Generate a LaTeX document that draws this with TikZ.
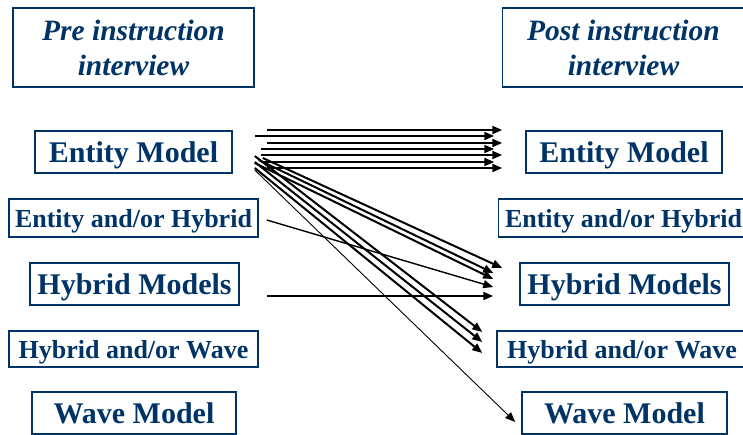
\documentclass[tikz,border=0pt]{standalone}
\usepackage{fontspec}
\setmainfont{Liberation Serif}
\usetikzlibrary{arrows.meta,calc}
\definecolor{navy}{RGB}{0,51,102}
\begin{document}
\begin{tikzpicture}[x=1pt,y=-1pt,
  box/.style={draw=navy,line width=1.5pt,text=navy,inner sep=0pt,align=center,text depth=0pt},
  bigbox/.style={box,font=\bfseries\fontsize{30}{35}\selectfont},
  smallbox/.style={box,font=\bfseries\fontsize{26}{30}\selectfont},
  headbox/.style={box,font=\bfseries\itshape\fontsize{29.5}{35}\selectfont},
  arr/.style={-{Triangle[length=10pt,width=8pt]},line width=2pt},
  midarr/.style={-{Triangle[length=10pt,width=8pt]},line width=1.4pt},
  thinarr/.style={-{Triangle[length=10pt,width=8pt]},line width=0.9pt}]
\useasboundingbox (0,0) rectangle (743,435);
% left column
\node[headbox,minimum width=241pt,minimum height=79pt] (pre) at (133.5,47.5) {Pre instruction\\interview};
\node[bigbox,minimum width=197pt,minimum height=42pt] (lem) at (133.5,152) {Entity Model};
\node[smallbox,minimum width=249pt,minimum height=38pt] (leh) at (133.5,218) {Entity and/or Hybrid};
\node[bigbox,minimum width=209pt,minimum height=42pt] (lhm) at (134.5,284) {Hybrid Models};
\node[smallbox,minimum width=249pt,minimum height=36pt] (lhw) at (133.5,349) {Hybrid and/or Wave};
\node[bigbox,minimum width=204pt,minimum height=42pt] (lwm) at (134,413) {Wave Model};
% right column
\node[headbox,minimum width=242pt,minimum height=79pt] (post) at (623.5,47.5) {Post instruction\\interview};
\node[bigbox,minimum width=196pt,minimum height=42pt] (rem) at (624,152) {Entity Model};
\node[smallbox,minimum width=250pt,minimum height=38pt] (reh) at (623.5,218) {Entity and/or Hybrid};
\node[bigbox,minimum width=209pt,minimum height=42pt] (rhm) at (624.5,284) {Hybrid Models};
\node[smallbox,minimum width=250pt,minimum height=36pt] (rhw) at (622,349) {Hybrid and/or Wave};
\node[bigbox,minimum width=205pt,minimum height=42pt] (rwm) at (624.5,413) {Wave Model};
% horizontal arrows Entity -> Entity
\draw[arr] ($(lem.east)+(34,-22)$) -- ($(rem.west)+(-23,-22)$);
\draw[arr] ($(lem.east)+(22,-16)$) -- ($(rem.west)+(-31,-16)$);
\draw[arr] ($(lem.east)+(34,-9)$) -- ($(rem.west)+(-23,-9)$);
\draw[arr] ($(lem.east)+(28,-3)$) -- ($(rem.west)+(-31,-3)$);
\draw[arr] ($(lem.east)+(28,3)$) -- ($(rem.west)+(-23,3)$);
\draw[arr] ($(lem.east)+(28,10)$) -- ($(rem.west)+(-31,10)$);
\draw[arr] ($(lem.east)+(34,16)$) -- ($(rem.west)+(-23,16)$);
% Entity -> Hybrid Models
\draw[arr] ($(lem.east)+(30,6)$) -- ($(rhm.west)+(-17,-16)$);
\draw[arr] ($(lem.east)+(26,8)$) -- ($(rhm.west)+(-26,-11)$);
\draw[arr] ($(lem.east)+(22,11)$) -- ($(rhm.west)+(-26,-5)$);
% Entity -> Hybrid and/or Wave
\draw[arr] ($(lem.east)+(22,4)$) -- ($(rhw.west)+(-14,-17)$);
\draw[arr] ($(lem.east)+(22,10)$) -- ($(rhw.west)+(-14,-7)$);
\draw[arr] ($(lem.east)+(22,16)$) -- ($(rhw.west)+(-14,4)$);
% Entity -> Wave Model
\draw[thinarr] ($(lem.east)+(22,18)$) -- ($(rwm.west)+(-6,9)$);
% Entity and/or Hybrid -> Hybrid Models
\draw[midarr] ($(leh.east)+(8,2)$) -- ($(rhm.west)+(-26,3)$);
% Hybrid Models -> Hybrid Models
\draw[arr] ($(lhm.east)+(27,12)$) -- ($(rhm.west)+(-26,12)$);
\end{tikzpicture}
\end{document}
